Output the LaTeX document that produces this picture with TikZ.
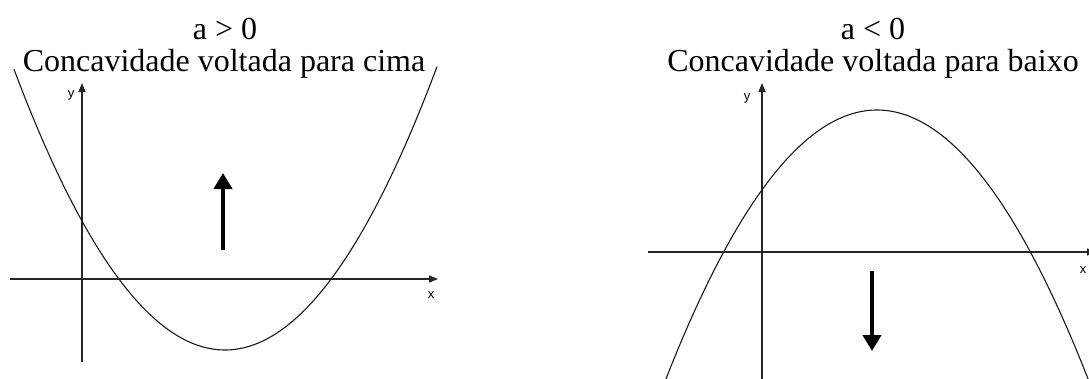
\documentclass[tikz,border=0pt]{standalone}
\usepackage{fontspec}
\setmainfont{Liberation Serif}
\newfontfamily\axisfont{Liberation Sans}
\usetikzlibrary{arrows.meta}

\begin{document}
\begin{tikzpicture}[x=1pt, y=-1pt,
 every node/.style={inner sep=0pt},
 title/.style={font=\fontsize{32}{36}\selectfont},
 sign/.style={font=\fontsize{32}{36}\selectfont},
 axlabel/.style={font=\axisfont\fontsize{13}{14}\selectfont},
 axis/.style={line width=1.4pt, black!85, -{Triangle[length=9pt,width=7pt]}},
 curve/.style={line width=1.1pt, black!90},
 bigarrow/.style={line width=4pt, -{Triangle[length=16pt,width=18pt]}}]
\clip (0,0) rectangle (1089,378);
% left panel: a > 0
\node[sign] (signup) at (225,29) {a > 0};
\node[title] (titleup) at (224,64) {Concavidade voltada para cima};
\coordinate (xup0) at (10,279);
\coordinate (xup1) at (438,279);
\coordinate (yup0) at (82,362);
\coordinate (yup1) at (82,83);
\draw[axis] (xup0) -- (xup1);
\draw[axis] (yup0) -- (yup1);
\node[axlabel] (xlabup) at (431,295) {x};
\node[axlabel] (ylabup) at (71,95) {y};
\draw[curve] plot[domain=14:437, samples=120] (\x, {350-((\x-225)*0.0794)^2});
\coordinate (arrup0) at (223,250);
\coordinate (arrup1) at (223,173);
\draw[bigarrow] (arrup0) -- (arrup1);
% right panel: a < 0
\node[sign] (signdown) at (873,29) {a < 0};
\node[title] (titledown) at (873,64) {Concavidade voltada para baixo};
\coordinate (xdn0) at (648,252);
\coordinate (xdn1) at (1096,252);
\coordinate (ydn0) at (762,390);
\coordinate (ydn1) at (762,83);
\draw[axis] (xdn0) -- (xdn1);
\draw[axis] (ydn0) -- (ydn1);
\node[axlabel] (xlabdn) at (1083,270) {x};
\node[axlabel] (ylabdn) at (747,98) {y};
\draw[curve] plot[domain=655:1100, samples=120] (\x, {110+((\x-877)*0.0777)^2});
\coordinate (arrdn0) at (872,271);
\coordinate (arrdn1) at (872,351);
\draw[bigarrow] (arrdn0) -- (arrdn1);
\end{tikzpicture}
\end{document}
